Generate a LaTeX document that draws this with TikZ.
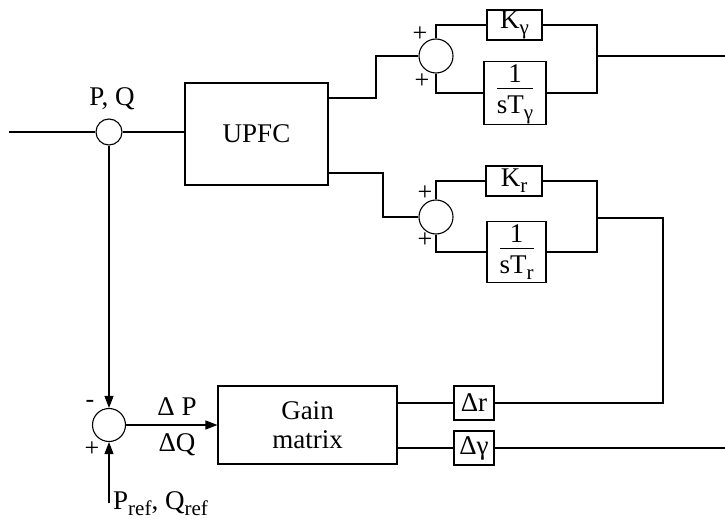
\documentclass[tikz,border=0pt]{standalone}
\usepackage{fontspec}
\setmainfont{Liberation Serif}
\usetikzlibrary{arrows.meta}
\newcommand{\fracbox}[2]{\begin{tabular}{@{}c@{}}#1\\[-3pt]\hline\rule{0pt}{25pt}#2\end{tabular}}
\newcommand{\lowsub}[1]{\raisebox{-6pt}{\fontsize{21}{22}\selectfont #1}}
\begin{document}
\begin{tikzpicture}[x=1pt,y=-1pt,
  every node/.style={font=\fontsize{27}{29}\selectfont},
  wire/.style={line width=1.1pt},
  blk/.style={draw, line width=1.1pt, inner sep=0pt, rectangle},
  sumc/.style={draw, line width=1.1pt, circle, inner sep=0pt},
  lbl/.style={inner sep=0pt},
  sgn/.style={inner sep=0pt, font=\fontsize{26}{28}\selectfont},
  arr/.style={wire, -{Triangle[length=12pt,width=9pt]}}]
\useasboundingbox (0,0) rectangle (725,524);
% nodes
\node[sumc, minimum size=26pt] (pq) at (109,132) {};
\node[blk, minimum width=143pt, minimum height=102pt] (upfc) at (256.5,134) {UPFC};
\node[sumc, minimum size=34pt] (s1) at (436,56) {};
\node[blk, minimum width=55pt, minimum height=30pt] (kg) at (514.5,25) {K\lowsub{γ}};
\node[blk, minimum width=62pt, minimum height=63pt] (fg) at (515,93) {\fracbox{1}{sT\lowsub{γ}}};
\node[sumc, minimum size=34pt] (s2) at (436,217) {};
\node[blk, minimum width=56pt, minimum height=30pt] (kr) at (514,181) {K\lowsub{r}};
\node[blk, minimum width=59pt, minimum height=61pt] (fr) at (516.5,252) {\fracbox{1}{sT\lowsub{r}}};
\node[sumc, minimum size=33pt] (s3) at (109,425) {};
\node[blk, minimum width=179pt, minimum height=78pt, align=center] (gain) at (307.5,425) {Gain\\matrix};
\node[blk, minimum width=40pt, minimum height=34pt] (dr) at (474,403) {Δr};
\node[blk, minimum width=40pt, minimum height=34pt] (dg) at (474,448) {Δγ};
% coordinates
\coordinate (in) at (9,132);
\coordinate (u1) at (328,98);
\coordinate (u2) at (328,173);
\coordinate (j1) at (597,56);
\coordinate (o1) at (725,56);
\coordinate (j2) at (597,218);
\coordinate (t2) at (663,218);
\coordinate (o2) at (725,448);
\coordinate (rb) at (109,503);
% labels
\node[lbl] (lpq) at (112,99) {P, Q};
\node[sgn] (p1) at (420,34) {+};
\node[sgn] (p2) at (422,81) {+};
\node[sgn] (p3) at (425,193) {+};
\node[sgn] (p4) at (425,240) {+};
\node[sgn] (m5) at (90,404) {-};
\node[sgn] (p5) at (92,449) {+};
\node[lbl] (ldp) at (177,407) {Δ P};
\node[lbl] (ldq) at (177,445) {ΔQ};
\node[lbl, anchor=base west] (lref) at (113,509) {P\lowsub{ref}, Q\lowsub{ref}};
% wires
\draw[wire] (in) -- (pq.west);
\draw[wire] (pq.east) -- (pq -| upfc.west);
\draw[wire] (u1) -- ++(48,0) |- (s1.west);
\draw[wire] (s1.north) |- (kg.west);
\draw[wire] (s1.south) |- (fg.west);
\draw[wire] (kg.east) -- (kg.east -| j1) -- (fg.east -| j1) -- (fg.east);
\draw[wire] (j1) -- (o1);
\draw[wire] (u2) -- ++(55,0) |- (s2.west);
\draw[wire] (s2.north) |- (kr.west);
\draw[wire] (s2.south) |- (fr.west);
\draw[wire] (kr.east) -- (kr.east -| j2) -- (fr.east -| j2) -- (fr.east);
\draw[wire] (j2) -- (t2) |- (dr.east);
\draw[wire] (gain.east |- dr) -- (dr.west);
\draw[wire] (gain.east |- dg) -- (dg.west);
\draw[wire] (dg.east) -- (o2);
\draw[arr] (pq.south) -- (s3.north);
\draw[arr] (rb) -- (s3.south);
\draw[arr] (s3.east) -- (gain.west);
\end{tikzpicture}
\end{document}
